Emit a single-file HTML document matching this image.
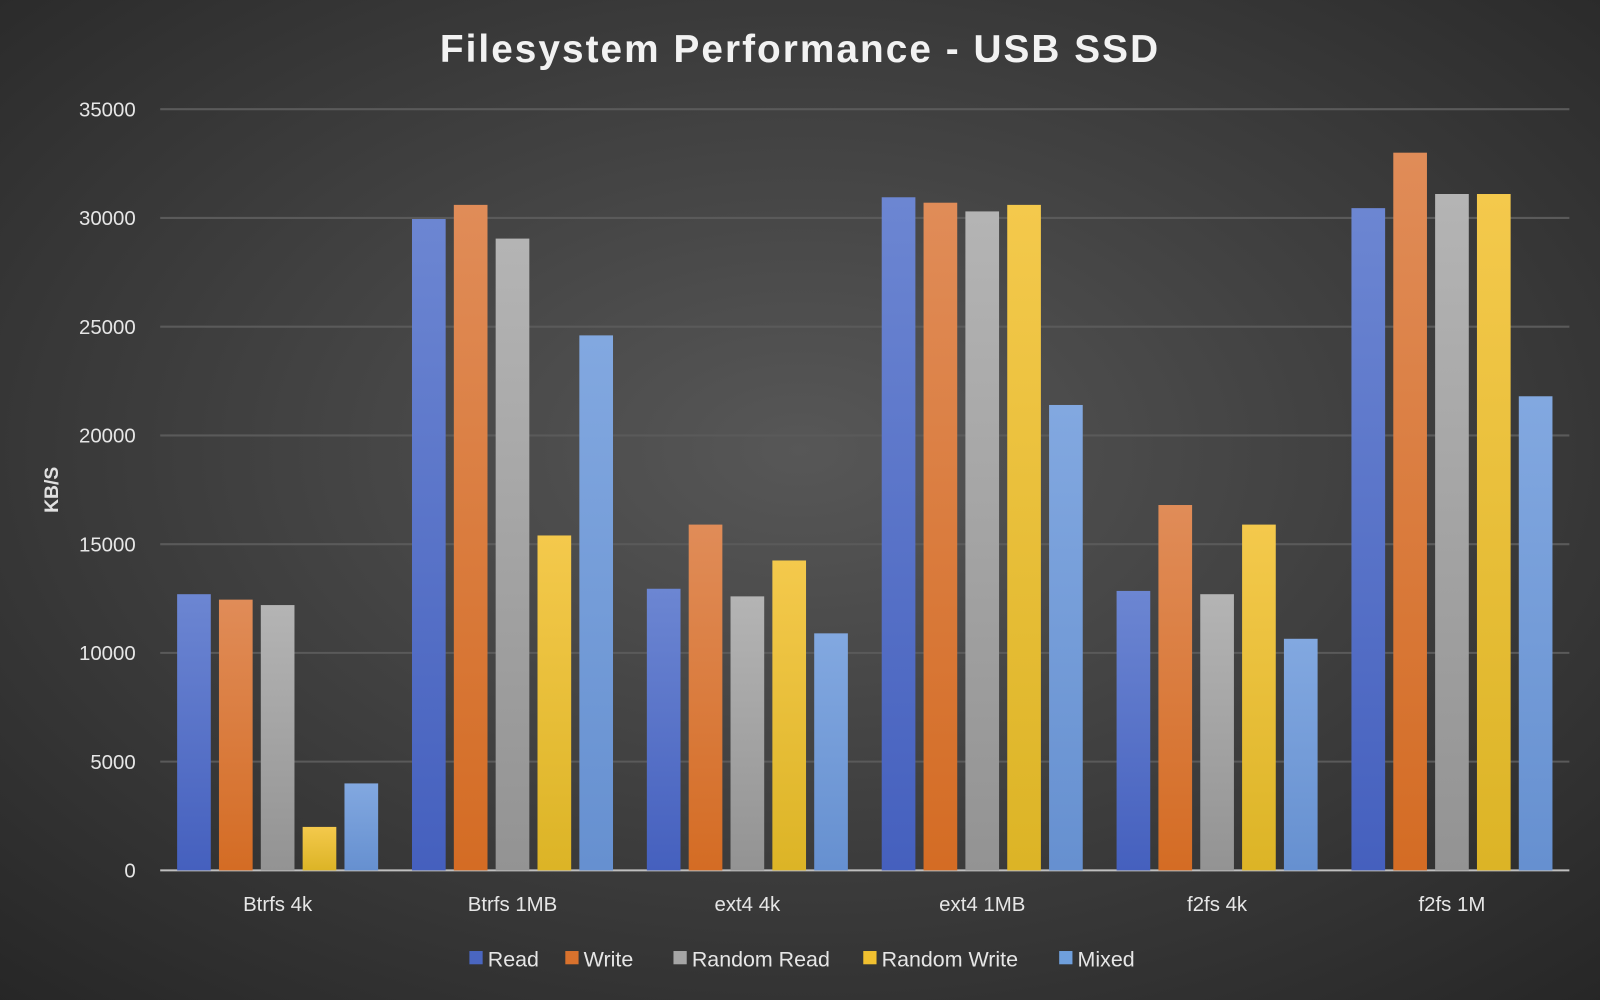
<!DOCTYPE html>
<html><head><meta charset="utf-8"><style>
html,body{margin:0;padding:0;background:#333;}
svg{display:block;font-family:"Liberation Sans","DejaVu Sans",sans-serif;}
</style></head><body>
<svg id="chart" width="1600" height="1000" viewBox="0 0 1568 980" xmlns="http://www.w3.org/2000/svg">
<defs>
<radialGradient id="bg" cx="50%" cy="45%" r="75%">
<stop offset="0" stop-color="#575757"/><stop offset="1" stop-color="#262626"/>
</radialGradient>
<linearGradient id="g0" x1="0" y1="0" x2="0" y2="1"><stop offset="0" stop-color="#6c86d2"/><stop offset="1" stop-color="#4560be"/></linearGradient>
<linearGradient id="g1" x1="0" y1="0" x2="0" y2="1"><stop offset="0" stop-color="#e08c58"/><stop offset="1" stop-color="#d46c24"/></linearGradient>
<linearGradient id="g2" x1="0" y1="0" x2="0" y2="1"><stop offset="0" stop-color="#b4b4b4"/><stop offset="1" stop-color="#939393"/></linearGradient>
<linearGradient id="g3" x1="0" y1="0" x2="0" y2="1"><stop offset="0" stop-color="#f4c94c"/><stop offset="1" stop-color="#dcb426"/></linearGradient>
<linearGradient id="g4" x1="0" y1="0" x2="0" y2="1"><stop offset="0" stop-color="#82a8e0"/><stop offset="1" stop-color="#6690d0"/></linearGradient>
</defs>
<rect x="0" y="0" width="1568" height="980" fill="url(#bg)"/>
<text x="784" y="61" text-anchor="middle" fill="#f2f2f2" font-size="38" font-weight="bold" letter-spacing="2">Filesystem Performance - USB SSD</text>
<text transform="translate(57,480) rotate(-90)" text-anchor="middle" fill="#e0e0e0" font-size="19" font-weight="bold">KB/S</text>
<g id="grid"></g><g id="bars"></g><g id="labels"></g><g id="legend"></g>
</svg>
<script>
const categories = ["Btrfs 4k","Btrfs 1MB","ext4 4k","ext4 1MB","f2fs 4k","f2fs 1M"];
const seriesNames = ["Read","Write","Random Read","Random Write","Mixed"];
const readVals = [12700,29950,12950,30950,12850,30450];
const writeVals = [12450,30600,15900,30700,16800,33000];
const randReadVals = [12200,29050,12600,30300,12700,31100];
const randWriteVals = [2000,15400,14250,30600,15900,31100];
const mixedVals = [4000,24600,10900,21400,10650,21800];
const yTicks = [0,5000,10000,15000,20000,25000,30000,35000];
const legendColors = ["#4a66c0","#d9722d","#a6a6a6","#f0c030","#6f9fdc"];

const series=[readVals,writeVals,randReadVals,randWriteVals,mixedVals];
const NS="http://www.w3.org/2000/svg";
const x0=157,x1=1538,yBase=853,yTop=107,yMax=35000;
const yS=v=>yBase-(v/yMax)*(yBase-yTop);
const gW=(x1-x0)/categories.length;
const bw=33,gap=8;
function mk(t,a,p){const e=document.createElementNS(NS,t);for(const k in a)e.setAttribute(k,a[k]);p.appendChild(e);return e;}
const grid=document.getElementById('grid'),bars=document.getElementById('bars'),labels=document.getElementById('labels'),legend=document.getElementById('legend');
yTicks.forEach(t=>{
  const l=mk('line',{x1:x0,x2:x1,y1:yS(t),y2:yS(t),stroke:t===0?'#bfbfbf':'#5a5a5a','stroke-width':2},grid);
  
  
  const tx=mk('text',{x:133,y:yS(t)+7,'text-anchor':'end',fill:'#e6e6e6','font-size':20},labels);
  tx.textContent=t;
  
  
});
categories.forEach((c,i)=>{
  const cx=x0+gW*(i+0.5);
  const total=series.length*bw+(series.length-1)*gap;
  series.forEach((s,j)=>{
    const x=cx-total/2+j*(bw+gap);
    const r=mk('rect',{x:x,y:yS(s[i]),width:bw,height:yBase-yS(s[i]),fill:'url(#g'+j+')'},bars);
    
    
  });
  const t=mk('text',{x:cx,y:893,'text-anchor':'middle',fill:'#e6e6e6','font-size':20},labels);
  t.textContent=c;
  
  
});
const lx=[460,554,660,846,1038];
seriesNames.forEach((n,j)=>{
  const g=mk('g',{},legend);
  
  
  mk('rect',{x:lx[j],y:932,width:13,height:13,fill:legendColors[j]},g);
  const t=mk('text',{x:lx[j]+18,y:947,fill:'#e6e6e6','font-size':21},g);
  t.textContent=n;
});
</script>
</body></html>
